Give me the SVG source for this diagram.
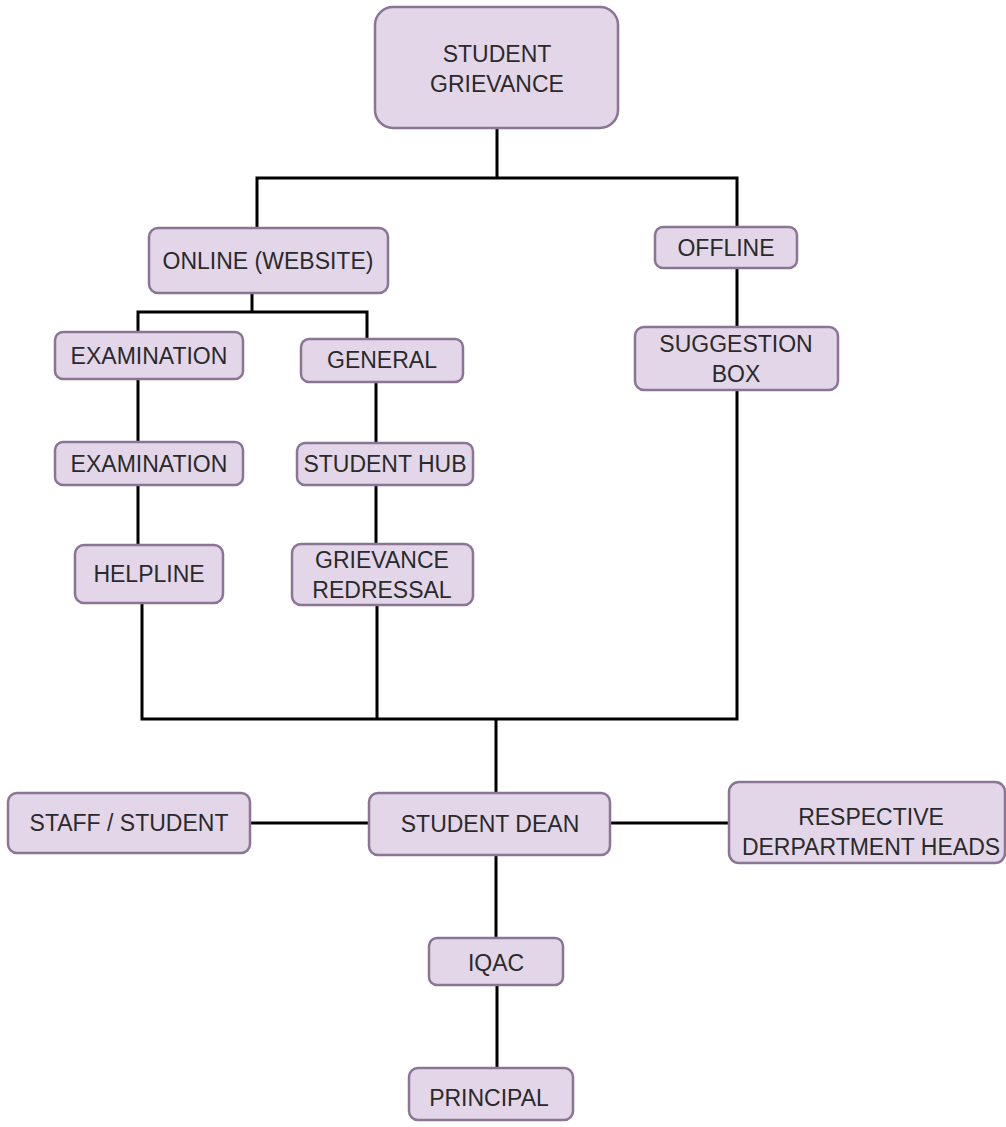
<svg xmlns="http://www.w3.org/2000/svg" width="1006" height="1127" viewBox="0 0 1006 1127">
<style>
.box{fill:#e3d6e9;stroke:#8b7595;stroke-width:2.5}
.t{font-family:"Liberation Sans",Arial,sans-serif;font-size:23px;fill:#2a2a2a;text-anchor:middle}
.c{fill:none;stroke:#000;stroke-width:3;stroke-linecap:square}
</style>
<rect width="1006" height="1127" fill="#fff"/>
<g id="connectors">
<path class="c" d="M497 128V178M257 178H737M257 178V228M737 178V227"/>
<path class="c" d="M252 293V312M138 312H367M138 312V332M367 312V339"/>
<path class="c" d="M138 379V442M138 485V545M376 382V443M376 485V544M737 268V327"/>
<path class="c" d="M142 603V719M377 605V719M737 390V719M142 719H737M496 719V793"/>
<path class="c" d="M250 823H369M610 823H729M496 855V938M497 985V1068"/>
</g>
<g id="n-grievance"><rect class="box" x="375" y="7" width="243" height="121" rx="18"/><text class="t" x="497" y="62">STUDENT</text><text class="t" x="497" y="92">GRIEVANCE</text></g>
<g id="n-online"><rect class="box" x="149" y="228" width="239" height="65" rx="9"/><text class="t" x="268" y="269">ONLINE (WEBSITE)</text></g>
<g id="n-offline"><rect class="box" x="655" y="227" width="142" height="41" rx="8"/><text class="t" x="726" y="256">OFFLINE</text></g>
<g id="n-exam1"><rect class="box" x="55" y="332" width="188" height="47" rx="8"/><text class="t" x="149" y="364">EXAMINATION</text></g>
<g id="n-general"><rect class="box" x="301" y="339" width="162" height="43" rx="8"/><text class="t" x="382" y="368">GENERAL</text></g>
<g id="n-suggestion"><rect class="box" x="635" y="327" width="203" height="63" rx="9"/><text class="t" x="736" y="352">SUGGESTION</text><text class="t" x="736" y="382">BOX</text></g>
<g id="n-exam2"><rect class="box" x="55" y="442" width="188" height="43" rx="8"/><text class="t" x="149" y="472">EXAMINATION</text></g>
<g id="n-hub"><rect class="box" x="297" y="443" width="176" height="42" rx="8"/><text class="t" x="385" y="472">STUDENT HUB</text></g>
<g id="n-helpline"><rect class="box" x="75" y="545" width="148" height="58" rx="9"/><text class="t" x="149" y="582">HELPLINE</text></g>
<g id="n-redressal"><rect class="box" x="292" y="544" width="181" height="61" rx="9"/><text class="t" x="382" y="568">GRIEVANCE</text><text class="t" x="382" y="598">REDRESSAL</text></g>
<g id="n-staff"><rect class="box" x="8" y="793" width="242" height="60" rx="9"/><text class="t" x="129" y="831">STAFF / STUDENT</text></g>
<g id="n-dean"><rect class="box" x="369" y="793" width="241" height="62" rx="9"/><text class="t" x="490" y="832">STUDENT DEAN</text></g>
<g id="n-heads"><rect class="box" x="729" y="782" width="276" height="81" rx="10"/><text class="t" x="871" y="825">RESPECTIVE</text><text class="t" x="871" y="855">DERPARTMENT HEADS</text></g>
<g id="n-iqac"><rect class="box" x="429" y="938" width="134" height="47" rx="8"/><text class="t" x="496" y="971">IQAC</text></g>
<g id="n-principal"><rect class="box" x="409" y="1068" width="164" height="52" rx="9"/><text class="t" x="489" y="1106">PRINCIPAL</text></g>
</svg>
